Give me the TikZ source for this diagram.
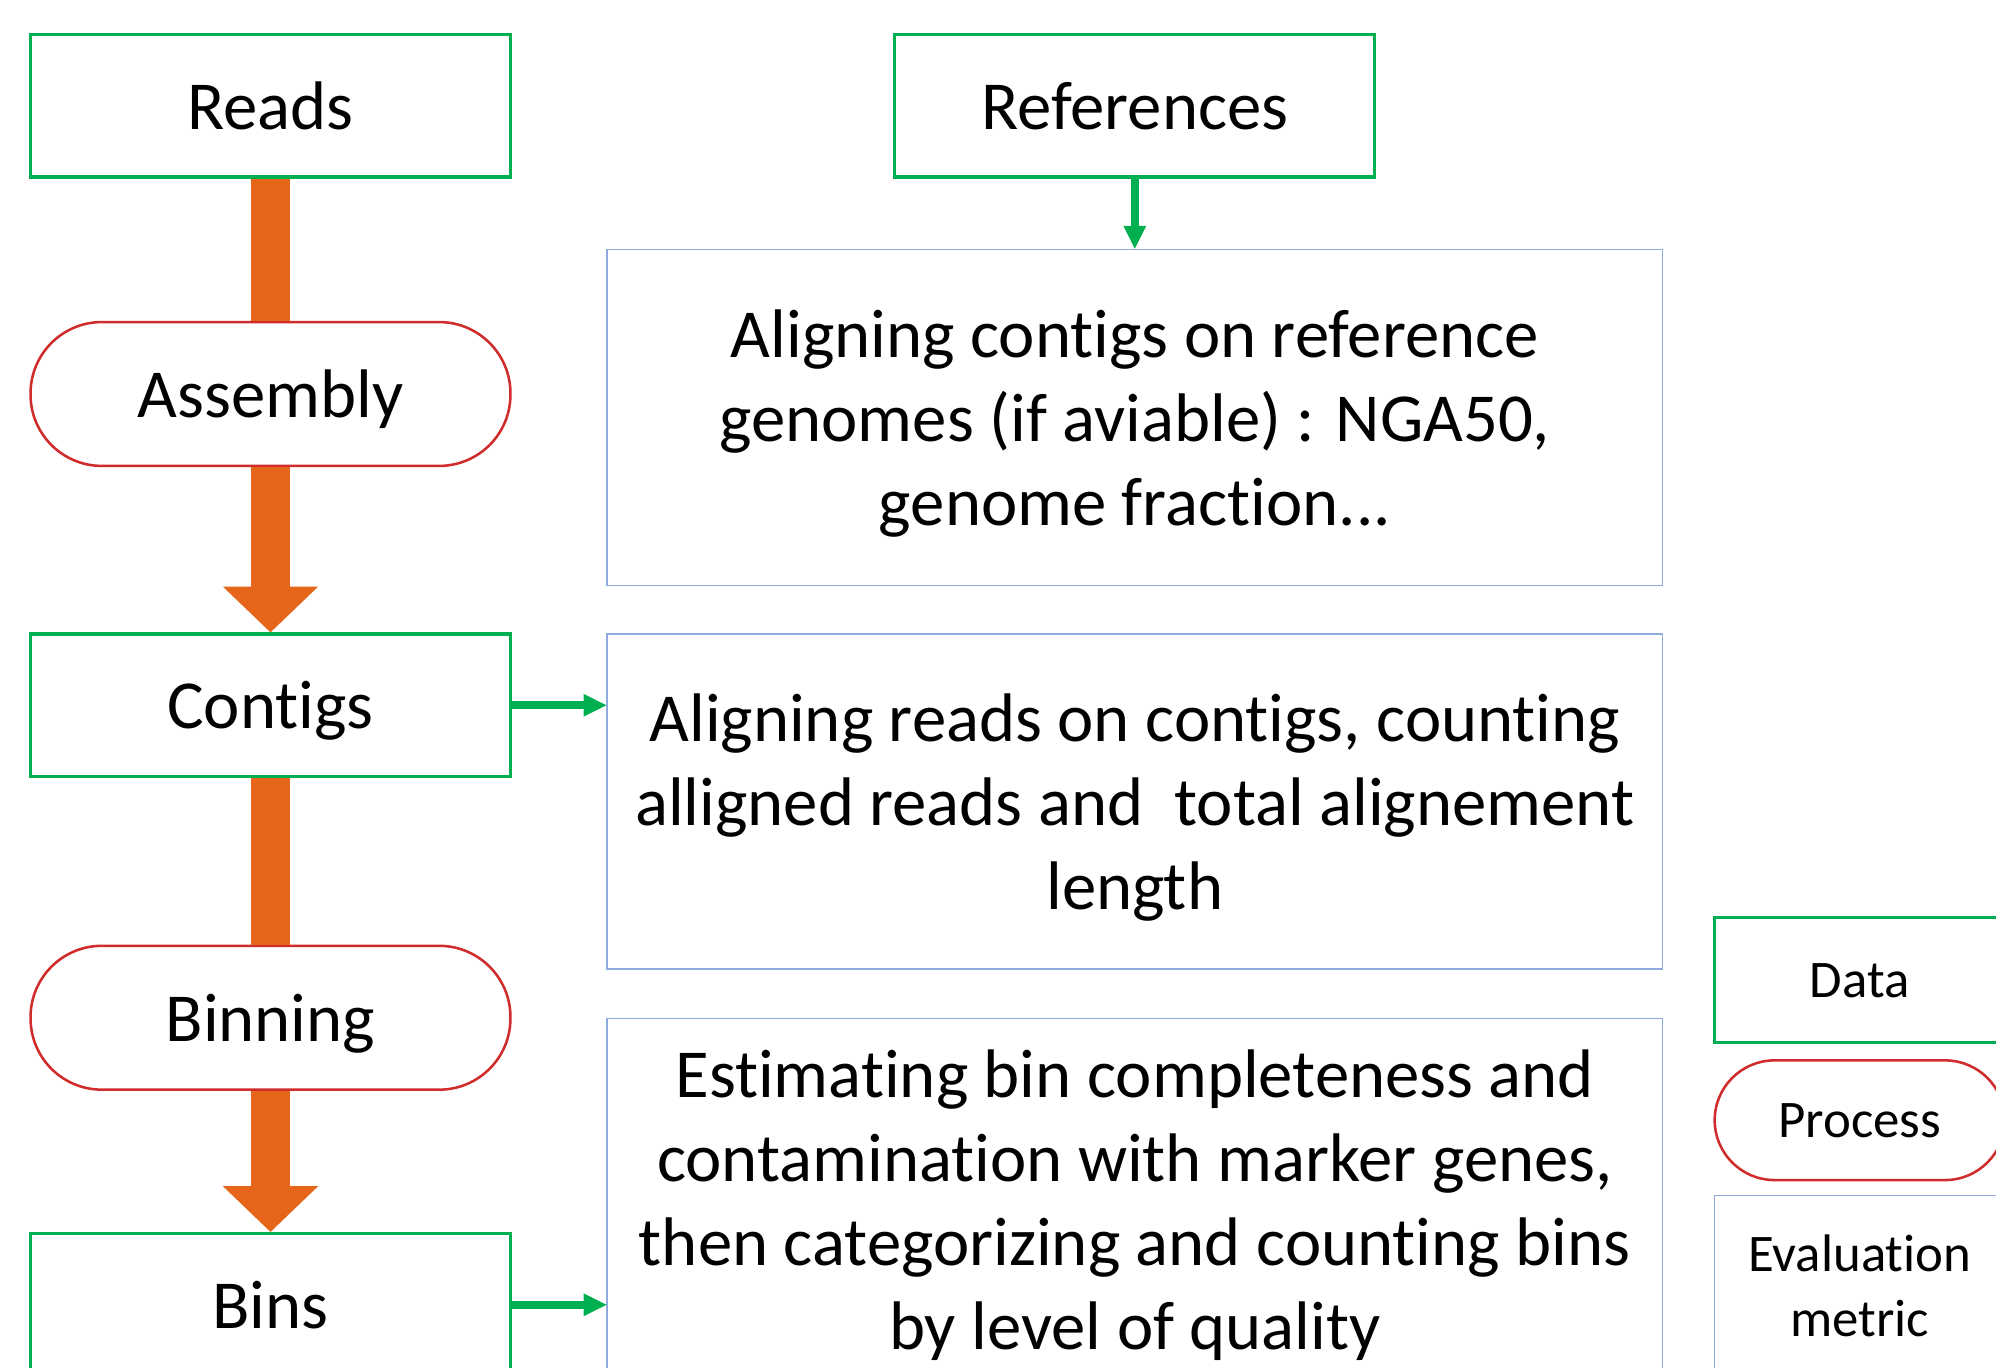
\documentclass[tikz,border=0pt]{standalone}
\usepackage{fontspec}
\setmainfont{Carlito}[Ligatures=NoCommon]
\usetikzlibrary{arrows.meta}

\definecolor{datagreen}{HTML}{00B050}
\definecolor{procred}{HTML}{D02C2C}
\definecolor{metricblue}{HTML}{8FAADC}
\definecolor{floworange}{HTML}{E5661A}

\begin{document}
\begin{tikzpicture}[
        x=1pt, y=-1pt,
        big/.style={font=\fontsize{54}{66}\selectfont, text depth=0pt},
        small/.style={font=\fontsize{41.5}{51}\selectfont, text depth=0pt},
        data/.style={draw=datagreen, line width=2.5pt, minimum width=377pt, minimum height=112pt},
        process/.style={draw=procred, line width=2pt, rounded corners=56pt, minimum width=377pt, minimum height=113pt},
        metric/.style={draw=metricblue, line width=1.2pt, minimum width=829pt, align=center},
        flow/.style={draw=floworange, line width=30pt},
        flowhead/.style={flow, -{Triangle[width=75pt,length=36pt,line width=0pt]}},
        feed/.style={draw=datagreen, line width=6pt, -{Triangle[width=18pt,length=18pt,line width=0pt]}}
    ]
    \useasboundingbox (0,0) rectangle (1568,1074);
    \clip (0,0) rectangle (1568,1074);

    \node[data, big] (reads) at (212.5,83) {Reads};
    \node[process, big] (assembly) at (212.5,309.5) {Assembly};
    \node[data, big] (contigs) at (212.5,554) {Contigs};
    \node[process, big] (binning) at (212.5,799.5) {Binning};
    \node[data, big] (bins) at (212.5,1025) {Bins};

    \node[data, big] (refs) at (891.5,83) {References};
    \node[metric, big, minimum height=264pt] (evalref) at (891.5,328) {Aligning contigs on reference\\genomes (if aviable) : NGA50,\\genome fraction...};
    \node[metric, big, minimum height=263pt] (evalreads) at (891.5,629.5) {Aligning reads on contigs, counting\\alligned reads and~ total alignement\\length};
    \node[metric, big, minimum height=285pt] (evalbins) at (891.5,942.5) {Estimating bin completeness and\\contamination with marker genes,\\then categorizing and counting bins\\by level of quality};

    \node[data, small, minimum width=228pt, minimum height=98pt] (legdata) at (1461,770) {Data};
    \node[process, small, minimum width=228pt, minimum height=94pt, rounded corners=47pt] (legproc) at (1461,880) {Process};
    \node[metric, small, minimum width=228pt, minimum height=142pt] (legmetric) at (1461,1010) {Evaluation\\metric};

    \draw[flow] (reads.south) -- (assembly.north);
    \draw[flowhead] (assembly.south) -- (contigs.north);
    \draw[flow] (contigs.south) -- (binning.north);
    \draw[flowhead] (binning.south) -- (bins.north);

    \draw[feed] (refs.south) -- (evalref.north);
    \draw[feed] (contigs.east) -- (contigs.east -| evalreads.west);
    \draw[feed] (bins.east) -- (bins.east -| evalbins.west);
\end{tikzpicture}
\end{document}
